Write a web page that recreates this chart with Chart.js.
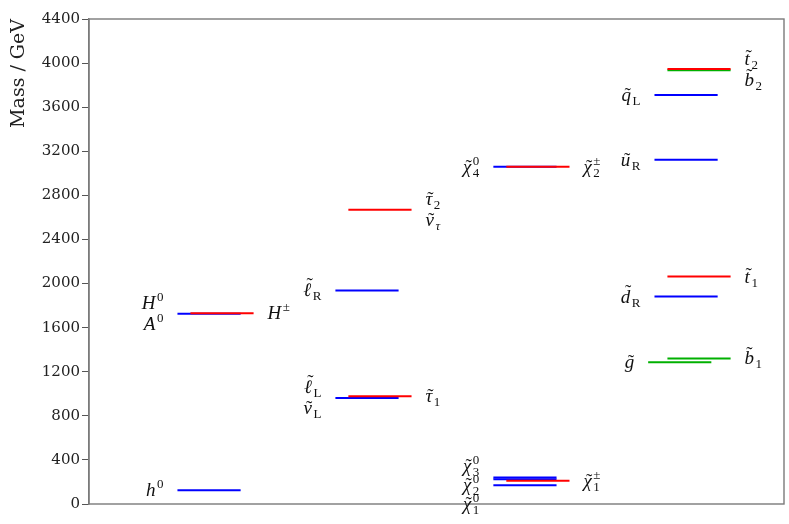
<!DOCTYPE html>
<html>
<head>
<meta charset="utf-8">
<script src="https://cdn.jsdelivr.net/npm/chart.js@4.4.0/dist/chart.umd.min.js"></script>
<style>
  body { margin: 0; background: #fff; }
  canvas { display: block; }
</style>
</head>
<body>
<canvas id="spectrum" width="789" height="524"></canvas>
<script>
// mass spectrum, GeV
const particles = ['h0', 'H0', 'Hpm', 'lL', 'tau1', 'lR', 'tau2', 'chi1', 'chi2', 'chi3', 'chi1pm', 'chi4', 'chi2pm', 'gluino', 'b1', 'dR', 't1', 'uR', 'qL', 'b2', 't2'];
const masses    = [125, 1727, 1730, 962, 978, 1937, 2670, 170, 225, 240, 210, 3060, 3060, 1285, 1321, 1882, 2063, 3122, 3711, 3935, 3946];
const sectors   = ['Higgs', 'Higgs', 'Higgs', 'slepton', 'slepton', 'slepton', 'slepton', 'ewino', 'ewino', 'ewino', 'ewino', 'ewino', 'ewino', 'squark', 'squark', 'squark', 'squark', 'squark', 'squark', 'squark', 'squark'];
const yTicks    = [0, 400, 800, 1200, 1600, 2000, 2400, 2800, 3200, 3600, 4000, 4400];

// labels next to levels: side, then lines of {b: base, t: tilde, sup, sub}
const levelLabels = {
    h0:     ['left',  [{ b: 'h', sup: '0' }]],
    H0:     ['left',  [{ b: 'H', sup: '0' }, { b: 'A', sup: '0' }]],
    Hpm:    ['right', [{ b: 'H', sup: '±' }]],
    lR:     ['left',  [{ b: 'ℓ', t: 1, sub: 'R' }]],
    lL:     ['left',  [{ b: 'ℓ', t: 1, sub: 'L' }, { b: 'ν', t: 1, sub: 'L' }]],
    tau1:   ['right', [{ b: 'τ', t: 1, sub: '1' }]],
    tau2:   ['right', [{ b: 'τ', t: 1, sub: '2' }, { b: 'ν', t: 1, sub: 'τ', subIt: 1 }]],
    chi4:   ['left',  [{ b: 'χ', t: 1, sup: '0', sub: '4' }]],
    chi2pm: ['right', [{ b: 'χ', t: 1, sup: '±', sub: '2' }]],
    chi1:   ['left',  [{ b: 'χ', t: 1, sup: '0', sub: '3' }, { b: 'χ', t: 1, sup: '0', sub: '2' }, { b: 'χ', t: 1, sup: '0', sub: '1' }]],
    chi1pm: ['right', [{ b: 'χ', t: 1, sup: '±', sub: '1' }]],
    t2:     ['right', [{ b: 't', t: 1, sub: '2' }, { b: 'b', t: 1, sub: '2' }]],
    qL:     ['left',  [{ b: 'q', t: 1, sub: 'L' }]],
    uR:     ['left',  [{ b: 'u', t: 1, sub: 'R' }]],
    t1:     ['right', [{ b: 't', t: 1, sub: '1' }]],
    dR:     ['left',  [{ b: 'd', t: 1, sub: 'R' }]],
    gluino: ['left',  [{ b: 'g', t: 1 }]],
    b1:     ['right', [{ b: 'b', t: 1, sub: '1' }]]
};

// layout / style
const columnX = { Higgs: 1, slepton: 2, ewino: 3, squark: 4.02 };
const halfWidth = 0.2;
const BLUE = '#0000ff', RED = '#ff0000', GREEN = '#00b000';
const lineStyle = {
    h0: [BLUE, 0], H0: [BLUE, 0], Hpm: [RED, 0.082],
    lL: [BLUE, 0], tau1: [RED, 0.082], lR: [BLUE, 0], tau2: [RED, 0.082],
    chi1: [BLUE, 0], chi2: [BLUE, 0], chi3: [BLUE, 0], chi1pm: [RED, 0.082],
    chi4: [BLUE, 0], chi2pm: [RED, 0.082],
    gluino: [GREEN, -0.04], b1: [GREEN, 0.082], dR: [BLUE, 0], t1: [RED, 0.082],
    uR: [BLUE, 0], qL: [BLUE, 0], b2: [GREEN, 0.082], t2: [RED, 0.082]
};
const SERIF = '"Liberation Serif", "DejaVu Serif", serif';
const WIDE_SERIF = '"DejaVu Serif", serif';
const BASE_FONT = 19, SCRIPT_FONT = 13;
// tilde position tweaks: [raise, x shift]
const tildeFix = { 'ℓ': [5, 2.5], 'b': [4, 0], 'd': [5, 2.5], 't': [2, 1.5] };

const datasets = particles.map((p, i) => {
    const [colour, shift] = lineStyle[p];
    const cx = columnX[sectors[i]] + shift;
    return {
        label: p,
        data: [{ x: cx - halfWidth, y: masses[i] }, { x: cx + halfWidth, y: masses[i] }],
        borderColor: colour,
        borderWidth: 2,
        pointRadius: 0,
        fill: false,
        order: colour === RED ? 0 : (colour === BLUE ? 1 : 2)
    };
});

function labelWidth(ctx, lab) {
    ctx.font = 'italic ' + BASE_FONT + 'px ' + SERIF;
    let w = ctx.measureText(lab.b).width;
    let ws = 0;
    ctx.font = SCRIPT_FONT + 'px ' + SERIF;
    if (lab.sup) ws = Math.max(ws, ctx.measureText(lab.sup).width);
    if (lab.sub) {
        ctx.font = (lab.subIt ? 'italic ' : '') + SCRIPT_FONT + 'px ' + SERIF;
        ws = Math.max(ws, ctx.measureText(lab.sub).width);
    }
    return { w, total: w + (ws ? ws + 1.5 : 0) };
}

function drawLabel(ctx, lab, x, base, side) {
    const m = labelWidth(ctx, lab);
    const x0 = side === 'left' ? x - m.total : x;
    ctx.fillStyle = '#111';
    ctx.textAlign = 'left';
    ctx.textBaseline = 'alphabetic';
    ctx.font = 'italic ' + BASE_FONT + 'px ' + SERIF;
    ctx.fillText(lab.b, x0, base);
    if (lab.t) {
        const [raise, dx] = tildeFix[lab.b] || [0, 1.5];
        ctx.font = BASE_FONT + 'px ' + SERIF;
        ctx.textAlign = 'center';
        ctx.fillText('˜', x0 + m.w / 2 + dx, base - raise);
        ctx.textAlign = 'left';
    }
    if (lab.sup) {
        ctx.font = SCRIPT_FONT + 'px ' + SERIF;
        ctx.fillText(lab.sup, x0 + m.w + 1.5, base - 8);
    }
    if (lab.sub) {
        ctx.font = (lab.subIt ? 'italic ' : '') + SCRIPT_FONT + 'px ' + SERIF;
        ctx.fillText(lab.sub, x0 + m.w + 1.5, base + 4);
    }
}

const labelPlugin = {
    id: 'levelLabels',
    afterDatasetsDraw(chart) {
        const { ctx, chartArea: a, scales: { x, y } } = chart;
        ctx.save();
        // frame
        ctx.strokeStyle = '#7a7a7a';
        ctx.lineWidth = 1.4;
        ctx.strokeRect(a.left, a.top, a.right - a.left, a.bottom - a.top);
        particles.forEach((p, i) => {
            const entry = levelLabels[p];
            if (!entry) return;
            const [side, lines] = entry;
            const pts = datasets[i].data;
            const px = side === 'left' ? x.getPixelForValue(pts[0].x) - 14 : x.getPixelForValue(pts[1].x) + 14;
            const py = y.getPixelForValue(masses[i]);
            const n = lines.length;
            const gap = n > 2 ? 19 : 21;
            lines.forEach((lab, k) => {
                drawLabel(ctx, lab, px, py + 6 + (k - (n - 1) / 2) * gap, side);
            });
        });
        ctx.restore();
    }
};

new Chart(document.getElementById('spectrum'), {
    type: 'line',
    data: { datasets },
    options: {
        responsive: false,
        animation: false,
        layout: { padding: { top: 19, right: 5, bottom: 20, left: 0 } },
        plugins: { legend: { display: false }, tooltip: { enabled: false } },
        scales: {
            x: {
                type: 'linear',
                min: 0.24,
                max: 4.64,
                display: false
            },
            y: {
                min: 0,
                max: 4400,
                afterFit(scale) { scale.width = 89; },
                afterBuildTicks(scale) { scale.ticks = yTicks.map(v => ({ value: v })); },
                border: { display: true, color: '#7a7a7a', width: 1.4 },
                grid: { drawOnChartArea: false, drawTicks: true, tickLength: 7, color: '#555' },
                ticks: {
                    padding: 2,
                    color: '#222',
                    font: { family: WIDE_SERIF, size: 15 },
                    callback: v => String(v)
                },
                title: {
                    display: true,
                    text: 'Mass / GeV',
                    align: 'end',
                    color: '#222',
                    font: { family: WIDE_SERIF, size: 19 },
                    padding: { top: 8, bottom: 0 }
                }
            }
        }
    },
    plugins: [labelPlugin]
});
</script>
</body>
</html>
